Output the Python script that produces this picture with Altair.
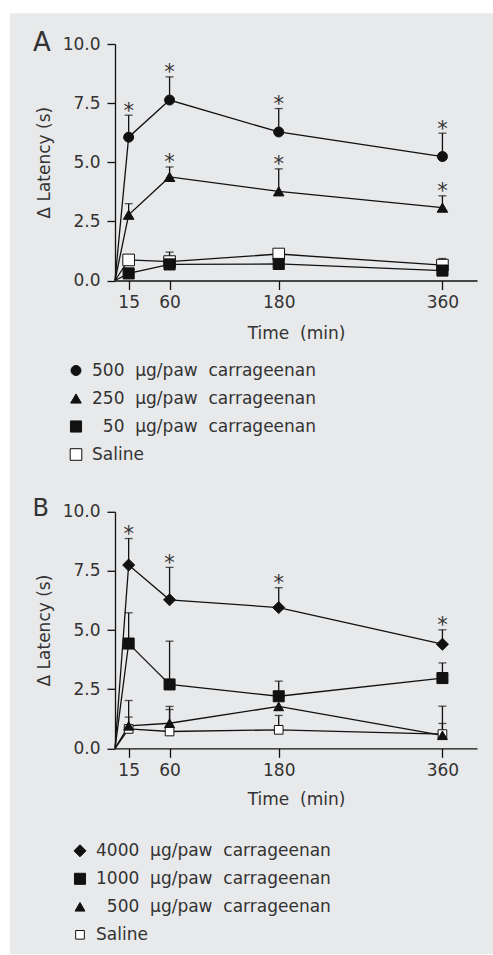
import altair as alt
import pandas as pd

FONT = "DejaVu Sans"
TXT = "#333333"
INK = "#111111"
BG = "#e8e9eb"

NB = "\u00a0"
LEAD = "\u200b\u2007"

TIMES = [15, 60, 180, 360]
Y_TICKS = [0, 2.5, 5, 7.5, 10]

# ---- Panel A ----
A_NAMES = [f"500{NB}{NB}µg/paw{NB}{NB}carrageenan",
           f"250{NB}{NB}µg/paw{NB}{NB}carrageenan",
           f"{LEAD}50{NB}{NB}µg/paw{NB}{NB}carrageenan",
           "Saline"]
A_SHAPES = ["circle", "triangle-up", "square", "square"]
A_FILLS = ["#111111", "#111111", "#111111", "#ffffff"]
A_SIZES = [100, 135, 70, 64]
A_MEAN = [
    [6.06, 7.63, 6.28, 5.24],
    [2.78, 4.38, 3.77, 3.08],
    [0.30, 0.68, 0.70, 0.42],
    [0.87, 0.80, 1.12, 0.65],
]
A_UPPER = [
    [6.99, 8.61, 7.27, 6.23],
    [3.25, 4.80, 4.72, 3.58],
    [None, None, None, None],
    [None, 1.20, None, 0.93],
]
A_SIG = [
    [1, 1, 1, 1],
    [0, 1, 1, 1],
    [0, 0, 0, 0],
    [0, 0, 0, 0],
]

# ---- Panel B ----
B_NAMES = [f"4000{NB}{NB}µg/paw{NB}{NB}carrageenan",
           f"1000{NB}{NB}µg/paw{NB}{NB}carrageenan",
           f"{LEAD}500{NB}{NB}µg/paw{NB}{NB}carrageenan",
           "Saline"]
B_SHAPES = ["diamond", "square", "triangle-up", "square"]
B_FILLS = ["#111111", "#111111", "#111111", "#ffffff"]
B_SIZES = [145, 75, 135, 64]
B_MEAN = [
    [7.75, 6.28, 5.95, 4.40],
    [4.43, 2.70, 2.20, 2.97],
    [0.95, 1.06, 1.77, 0.55],
    [0.82, 0.71, 0.78, 0.60],
]
B_UPPER = [
    [8.87, 7.65, 6.79, 5.01],
    [5.73, 4.53, 2.84, 3.61],
    [2.02, 1.77, None, 1.78],
    [1.32, 1.64, 1.39, 1.05],
]
B_SIG = [
    [1, 1, 1, 1],
    [0, 0, 0, 0],
    [0, 0, 0, 0],
    [0, 0, 0, 0],
]


def frames(names, means, uppers, sigs):
    pts, lines = [], []
    # saline first so that its open squares sit beneath the filled markers
    for n, m, u, s in reversed(list(zip(names, means, uppers, sigs))):
        lines.append({"series": n, "time": 0, "value": 0.0})
        for t, v, up, sg in zip(TIMES, m, u, s):
            pts.append({"series": n, "time": t, "value": v, "upper": up, "sig": sg})
            lines.append({"series": n, "time": t, "value": v})
    return pd.DataFrame(pts), pd.DataFrame(lines)


def panel(names, means, uppers, sigs, shapes, fills, sizes, letter,
          letter_x, letter_y, letter_size, leg_x, leg_y, title_pad, with_bg):
    df_pts, df_line = frames(names, means, uppers, sigs)
    df_err = df_pts.dropna(subset=["upper"])
    df_sig = df_err[df_err["sig"] == 1]

    xs = alt.Scale(domain=[0, 398], nice=False, zero=True)
    ys = alt.Scale(domain=[0, 10], nice=False)
    xaxis = alt.Axis(values=TIMES, grid=False, tickSize=9, labelPadding=5,
                     title=f"Time{NB}{NB}(min)", titlePadding=title_pad,
                     domainColor=INK, tickColor=INK, domainWidth=1.3, tickWidth=1.3,
                     labelFont=FONT, labelFontSize=17, labelColor=TXT,
                     titleFont=FONT, titleFontSize=17, titleColor=TXT,
                     titleFontWeight="normal", zindex=1)
    yaxis = alt.Axis(values=Y_TICKS, format=".1f", grid=False, tickSize=8, labelPadding=7,
                     title="Δ Latency (s)", titlePadding=9,
                     domainColor=INK, tickColor=INK, domainWidth=1.3, tickWidth=1.3,
                     labelFont=FONT, labelFontSize=17, labelColor=TXT,
                     titleFont=FONT, titleFontSize=17, titleColor=TXT,
                     titleFontWeight="normal", zindex=1)
    X = alt.X("time:Q", scale=xs, axis=xaxis)
    Y = alt.Y("value:Q", scale=ys, axis=yaxis)

    leg = alt.Legend(orient="none", legendX=leg_x, legendY=leg_y, title=None,
                     direction="vertical", padding=0, rowPadding=10, labelOffset=7.5,
                     labelLimit=0,
                     labelFont=FONT, labelFontSize=17, labelColor=TXT,
                     symbolStrokeColor=INK, symbolStrokeWidth=1, symbolOpacity=1,
                     zindex=1)

    layers = []
    if with_bg:
        layers.append(
            alt.Chart(pd.DataFrame({"b": [0]})).mark_rect(color=BG).encode(
                x=alt.value(-105), x2=alt.value(378),
                y=alt.value(-30.7), y2=alt.value(910.3))
        )
    line = alt.Chart(df_line).mark_line(color=INK, strokeWidth=1.3).encode(
        x=X, y=Y, detail="series:N", order="time:Q")
    rule = alt.Chart(df_err).mark_rule(color=INK, strokeWidth=1.3).encode(
        x=X, y=Y, y2="upper:Q")
    cap = alt.Chart(df_err).mark_tick(color=INK, orient="horizontal", size=8,
                                      thickness=1.3).encode(
        x=X, y=alt.Y("upper:Q", scale=ys, axis=yaxis))
    pts = alt.Chart(df_pts).mark_point(strokeWidth=1, opacity=1,
                                       fillOpacity=1, filled=False).encode(
        x=X, y=Y,
        shape=alt.Shape("series:N", scale=alt.Scale(domain=names, range=shapes), legend=leg),
        fill=alt.Fill("series:N", scale=alt.Scale(domain=names, range=fills), legend=leg),
        stroke=alt.Stroke("series:N", scale=alt.Scale(domain=names, range=[INK] * len(names)),
                          legend=leg),
        size=alt.Size("series:N", scale=alt.Scale(domain=names, range=sizes), legend=leg),
    )
    star = alt.Chart(df_sig).mark_text(text="*", baseline="alphabetic", dy=2.5,
                                       font=FONT, fontSize=21, color=TXT).encode(
        x=X, y=alt.Y("upper:Q", scale=ys, axis=yaxis))
    let = alt.Chart(pd.DataFrame({"t": [letter]})).mark_text(
        align="left", baseline="alphabetic", font=FONT, fontSize=letter_size,
        color=TXT).encode(text="t:N", x=alt.value(letter_x), y=alt.value(letter_y))
    layers += [line, rule, cap, pts, star, let]
    return alt.layer(*layers).properties(width=362, height=236.5)


pA = panel(A_NAMES, A_MEAN, A_UPPER, A_SIG, A_SHAPES, A_FILLS, A_SIZES, "A",
           -82, 7.3, 26, -47.5, 318, 15, True)
pB = panel(B_NAMES, B_MEAN, B_UPPER, B_SIG, B_SHAPES, B_FILLS, B_SIZES, "B",
           -82.5, 3.7, 24, -43.5, 330.5, 13, False)

chart = alt.vconcat(pA, pB, spacing=230.8, bounds="flush").resolve_scale(
    x="independent", y="independent", shape="independent",
    fill="independent", stroke="independent", size="independent"
).resolve_legend(
    shape="independent", fill="independent", stroke="independent", size="independent"
).properties(
    padding={"left": 10, "top": 13, "right": 0, "bottom": 1},
    background="white",
).configure_view(stroke=None)

chart.save("out.html", embed_options={"renderer": "svg", "actions": False})
